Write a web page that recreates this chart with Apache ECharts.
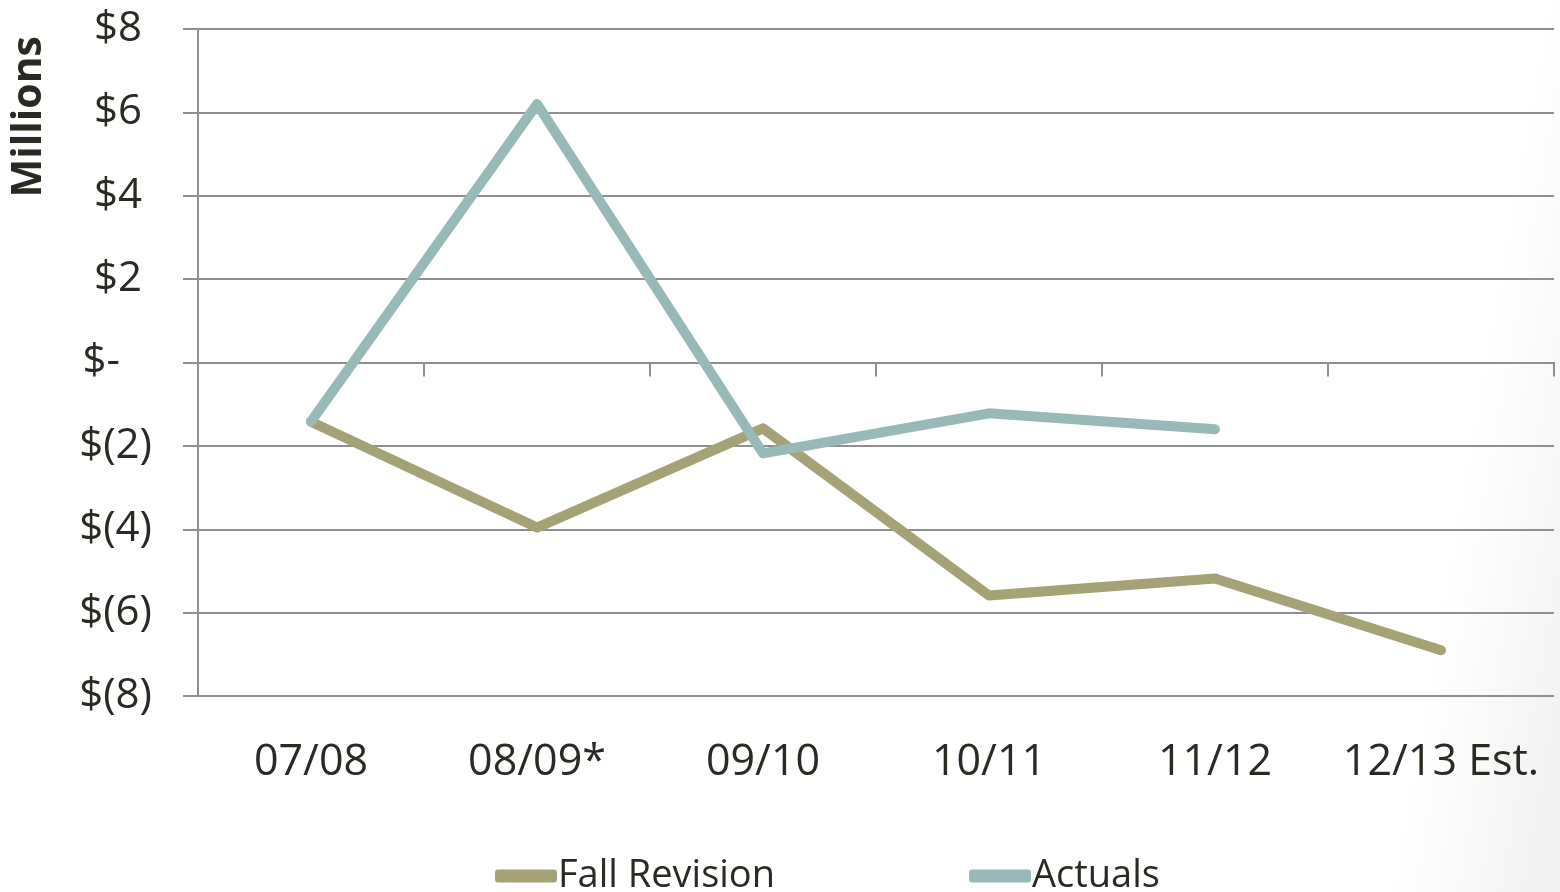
<!DOCTYPE html>
<html>
<head>
<meta charset="utf-8">
<script src="https://cdn.jsdelivr.net/npm/echarts@6/dist/echarts.min.js"></script>
<style>
html,body{margin:0;padding:0;background:#fff;}
#c{width:1560px;height:892px;background:linear-gradient(100deg,#ffffff 0%,#ffffff 90%,#f0f0f0 100%);}
</style>
</head>
<body>
<div id="c"></div>
<script>
const categories = ['07/08', '08/09*', '09/10', '10/11', '11/12', '12/13 Est.'];
const fallRevision = [-1.42, -3.96, -1.58, -5.59, -5.18, -6.9];
const actuals = [-1.42, 6.2, -2.18, -1.22, -1.6, null];
const yTickLabels = {'8':'$8','6':'$6','4':'$4','2':'$2','0':'$-','-2':'$(2)','-4':'$(4)','-6':'$(6)','-8':'$(8)'};

const textColor = '#2b2a22';
const gridColor = '#8f8f8f';
const font = 'Open Sans';

const chart = echarts.init(document.getElementById('c'), null, {renderer:'canvas'});
const lblStyle = {color: textColor, fontFamily: font, fontSize: 42};
chart.setOption({
  backgroundColor: 'transparent',
  animation: false,
  grid: {left: 198, top: 29, right: 6, bottom: 196, containLabel: false},
  xAxis: [
    {
      type: 'category', data: categories, boundaryGap: true,
      axisLine: {onZero: true, lineStyle: {color: gridColor, width: 2}},
      axisTick: {show: true, length: 14, inside: false, lineStyle: {color: gridColor, width: 2}},
      axisLabel: {show: false},
      splitLine: {show: false}
    },
    {
      type: 'category', data: categories, boundaryGap: true, position: 'bottom',
      axisLine: {show: false, onZero: false},
      axisTick: {show: false},
      axisLabel: {show: true, interval: 0, color: textColor, fontFamily: font, fontSize: 43, margin: 45},
      splitLine: {show: false}
    }
  ],
  yAxis: {
    type: 'value', min: -8, max: 8, interval: 2,
    axisLine: {show: true, lineStyle: {color: gridColor, width: 2}},
    axisTick: {show: true, length: 15, lineStyle: {color: gridColor, width: 2}},
    axisLabel: {
      color: textColor, fontFamily: font, fontSize: 42, margin: 46,
      formatter: v => {
        const s = yTickLabels[String(v)];
        if (v > 0) return '{pos|' + s + '}';
        if (v === 0) return '{zero|' + s + '}';
        return '{neg|' + s + '}';
      },
      rich: {
        pos: Object.assign({padding: [0, 10, 0, 0]}, lblStyle),
        zero: Object.assign({padding: [0, 32, 0, 0]}, lblStyle),
        neg: Object.assign({}, lblStyle)
      }
    },
    splitLine: {show: true, lineStyle: {color: gridColor, width: 2}}
  },
  legend: {
    bottom: -8, left: 490, itemGap: 194,
    itemWidth: 62, itemHeight: 13,
    textStyle: {color: textColor, fontFamily: font, fontSize: 38, padding: [0,0,0,-4]},
    data: [
      {name: 'Fall Revision', icon: 'roundRect'},
      {name: 'Actuals', icon: 'roundRect'}
    ]
  },
  graphic: [{
    type: 'text', left: 9, top: 36, rotation: Math.PI/2,
    style: {text: 'Millions', fill: textColor, font: 'bold 41px "Open Sans"'}
  }],
  series: [
    {
      name: 'Fall Revision', type: 'line', data: fallRevision, xAxisIndex: 0,
      symbol: 'none', color: '#a5a275',
      lineStyle: {width: 10, color: '#a5a275', cap: 'round', join: 'round'}
    },
    {
      name: 'Actuals', type: 'line', data: actuals, xAxisIndex: 0,
      symbol: 'none', color: '#97bab9', connectNulls: false,
      lineStyle: {width: 10, color: '#97bab9', cap: 'round', join: 'round'}
    }
  ]
});
</script>
</body>
</html>
